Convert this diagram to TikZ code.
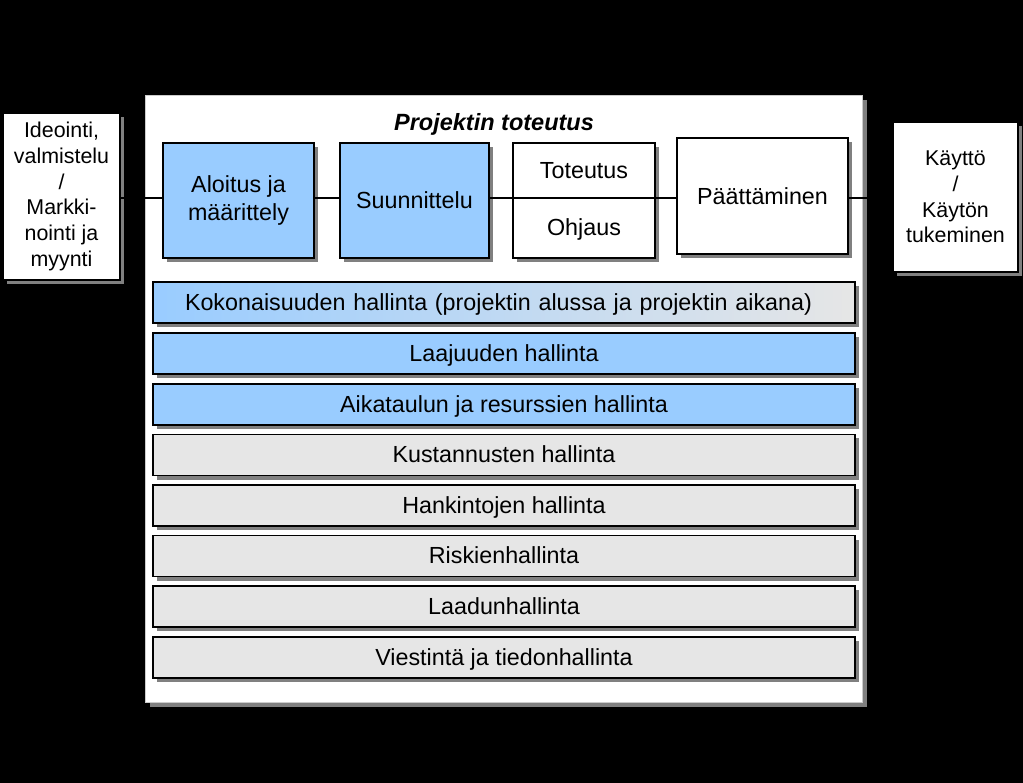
\documentclass[tikz,border=0pt]{standalone}
\usepackage{fontspec}
\setmainfont{Liberation Sans}
\usetikzlibrary{shadows}
\definecolor{boxblue}{HTML}{99CCFF}
\definecolor{bargray}{HTML}{E6E6E6}
\definecolor{shadowgray}{HTML}{808080}
\begin{document}
\begin{tikzpicture}[x=1pt,y=-1pt,
  sh/.style={drop shadow={shadow xshift=4pt,shadow yshift=-4pt,fill=shadowgray,opacity=1}},
  box/.style={draw=black,line width=1.4pt,sh,inner sep=0pt,align=center,
    font=\fontsize{23.3}{28}\selectfont},
  sidebox/.style={box,fill=white,font=\fontsize{21.4}{25.8}\selectfont},
  bluebox/.style={box,fill=boxblue},
  whitebox/.style={box,fill=white},
  bar/.style={box,minimum width=702pt,minimum height=41pt,text height=16.5pt,text depth=1pt},
  graybar/.style={bar,fill=bargray},
  bluebar/.style={bar,fill=boxblue},
  lbl/.style={inner sep=0pt,font=\fontsize{23.3}{28}\selectfont},
  conn/.style={draw=black,line width=1.2pt}
]
\fill[black] (0,0) rectangle (1023,783);
\useasboundingbox (0,0) rectangle (1023,783);

% main panel
\node[draw=gray!40,fill=white,inner sep=0pt,minimum width=717pt,minimum height=607pt,
  drop shadow={shadow xshift=5pt,shadow yshift=-5pt,fill=shadowgray,opacity=1}]
  (panel) at (503.5,398.5) {};
\node[inner sep=0pt,font=\fontsize{23.5}{28}\selectfont\bfseries\itshape] (title) at (494,124) {Projektin toteutus};

% side boxes
\node[sidebox,minimum width=117pt,minimum height=167pt] (ideo) at (61.5,196.5)
  {Ideointi,\\valmistelu\\/\\Markki-\\nointi ja\\myynti};
\node[sidebox,minimum width=125pt,minimum height=150pt] (kay) at (955.5,197)
  {Käyttö\\/\\Käytön\\tukeminen};

% phase boxes
\node[bluebox,minimum width=151pt,minimum height=115pt] (alo) at (238.5,200.5) {Aloitus ja\\määrittely};
\node[bluebox,minimum width=149pt,minimum height=115pt] (suu) at (414.5,200.5) {Suunnittelu};
\node[whitebox,minimum width=142pt,minimum height=115pt] (tot) at (584,200.5) {};
\node[whitebox,minimum width=171pt,minimum height=116pt] (paa) at (762.5,196) {Päättäminen};

\coordinate (ly) at (0,198);
\node[lbl] (tote) at (584,171) {Toteutus};
\node[lbl] (ohj) at (584,229) {Ohjaus};
\draw[conn] (tot.west |- ly) -- (tot.east |- ly);

% connectors
\draw[conn] (ideo.east |- ly) -- (alo.west |- ly);
\draw[conn] (alo.east |- ly) -- (suu.west |- ly);
\draw[conn] (suu.east |- ly) -- (tot.west |- ly);
\draw[conn] (tot.east |- ly) -- (paa.west |- ly);
\draw[conn] (paa.east |- ly) -- (kay.west |- ly);

% bars
\node[bar,fill=bargray,
  path picture={\shade[left color=boxblue,right color=bargray]
    (path picture bounding box.south west) rectangle (path picture bounding box.north east);}]
  (kok) at (504,302.5) {};
\node[lbl,text height=16.5pt,text depth=1pt] (koktxt) at (498.5,302.5) {\makebox[627pt][s]{Kokonaisuuden hallinta (projektin alussa ja projektin aikana)}};
\node[bluebar] (laa) at (504,353.5) {Laajuuden hallinta};
\node[bluebar] (aik) at (504,404.5) {Aikataulun ja resurssien hallinta};
\node[graybar] (kus) at (504,455) {Kustannusten hallinta};
\node[graybar] (han) at (504,505.5) {Hankintojen hallinta};
\node[graybar] (ris) at (504,556) {Riskienhallinta};
\node[graybar] (lad) at (504,606.5) {Laadunhallinta};
\node[graybar] (vie) at (504,657.5) {Viestintä ja tiedonhallinta};
\end{tikzpicture}
\end{document}
